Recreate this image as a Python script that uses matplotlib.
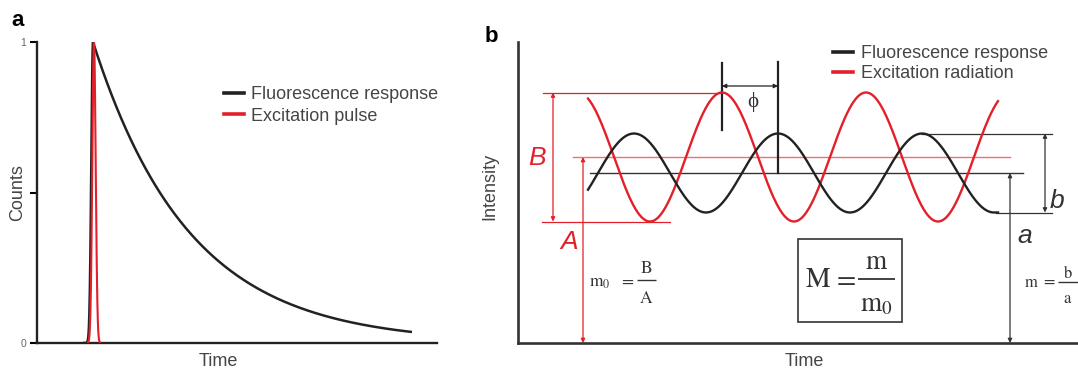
import matplotlib
matplotlib.use("Agg")
import matplotlib.pyplot as plt
import numpy as np
from matplotlib.patches import Rectangle
from matplotlib.lines import Line2D

plt.rcParams["font.family"] = ["Liberation Sans", "DejaVu Sans"]
plt.rcParams["mathtext.fontset"] = "stix"

RED = "#e3202a"
BLK = "#222222"
GREY = "#454545"
DK = "#333333"

# ---- panel a: decay after a short pulse (time in axis fraction, counts normalised)
a_peak_t = 0.14        # peak position of the decay
a_rise_w = 0.006       # width of the rising edge
a_tau = 0.241          # decay constant
a_end_t = 0.9375       # last drawn time point
a_pulse_t = 0.1425     # centre of excitation pulse
a_pulse_sig = 0.0042
a_yticks = [0, 0.5, 1]
a_yticklabels = ["0", "", "1"]
a_labels = ["Fluorescence response", "Excitation pulse"]

# ---- panel b: modulated excitation / response (units = picture pixels)
b_period = 144.0
b_red_mean, b_red_amp, b_red_peak = 186.0, 64.5, 204.0
b_blk_mean, b_blk_amp, b_blk_peak = 170.0, 39.5, 260.0
b_t_start, b_red_end, b_blk_end = 70.0, 480.0, 477.0
b_labels = ["Fluorescence response", "Excitation radiation"]

W, H = 1078, 369
fig = plt.figure(figsize=(W / 100, H / 100), dpi=100)


def px_axes(l, t, r, b):
    return fig.add_axes([l / W, 1 - b / H, (r - l) / W, (b - t) / H])


# ═══════════════ panel a ═══════════════
axa = px_axes(37, 42, 437, 343)
t_rise = np.linspace(0.115, a_peak_t, 80)
t_dec = np.linspace(a_peak_t, a_end_t, 400)
f_rise = np.exp(-((t_rise - a_peak_t) / a_rise_w) ** 2)
f_dec = np.exp(-(t_dec - a_peak_t) / a_tau)
axa.plot(np.r_[t_rise, t_dec], np.r_[f_rise, f_dec], color=BLK, lw=1.8,
         solid_capstyle="butt", zorder=3)
t_p = np.linspace(0.128, 0.157, 200)
axa.plot(t_p, np.exp(-0.5 * ((t_p - a_pulse_t) / a_pulse_sig) ** 2), color=RED,
         lw=1.5, zorder=4)

axa.set_xlim(0, 1)
axa.set_ylim(0, 1)
for s in ["top", "right"]:
    axa.spines[s].set_visible(False)
for s in ["left", "bottom"]:
    axa.spines[s].set_linewidth(1.7)
    axa.spines[s].set_color(BLK)
axa.set_xticks([])
axa.set_yticks(a_yticks)
axa.set_yticklabels(a_yticklabels, fontsize=7.5, color="#666666")
axa.tick_params(axis="y", length=5, width=1.5, pad=3)
axa.set_xlabel("Time", fontsize=13, color=GREY, va="center")
axa.xaxis.set_label_coords(0.4525, -0.063)
axa.set_ylabel("Counts", fontsize=13, color=GREY, va="center")
axa.yaxis.set_label_coords(-0.0475, 0.5)

ha = [Line2D([], [], color=BLK, lw=2.6), Line2D([], [], color=RED, lw=2.6)]
axa.legend(ha, a_labels, loc="upper left", bbox_to_anchor=(224 / W, 1 - 86 / H),
           bbox_transform=fig.transFigure, frameon=False, fontsize=13,
           handlelength=1.1, handletextpad=0.4, labelspacing=0.25,
           borderpad=0, borderaxespad=0, labelcolor=GREY)

fig.text(11 / W, 1 - 21 / H, "a", fontsize=16, fontweight="bold", va="center")

# ═══════════════ panel b ═══════════════
axb = px_axes(518, 42, 1078, 343)
axb.set_xlim(0, 560)
axb.set_ylim(0, 301)
for s in ["top", "right"]:
    axb.spines[s].set_visible(False)
for s in ["left", "bottom"]:
    axb.spines[s].set_linewidth(1.9)
    axb.spines[s].set_color(DK)
axb.set_xticks([])
axb.set_yticks([])

tr = np.linspace(b_t_start, b_red_end, 600)
red = b_red_mean + b_red_amp * np.cos(2 * np.pi * (tr - b_red_peak) / b_period)
tb = np.linspace(b_t_start, b_blk_end, 600)
blk = b_blk_mean + b_blk_amp * np.cos(2 * np.pi * (tb - b_blk_peak) / b_period)
tb = np.r_[tb, b_blk_end + 3]
blk = np.r_[blk, blk[-1]]
axb.plot(tr, red, color=RED, lw=1.7, zorder=3)
axb.plot(tb, blk, color=BLK, lw=1.7, zorder=3)

red_hi = b_red_mean + b_red_amp
red_lo = b_red_mean - b_red_amp
blk_hi = b_blk_mean + b_blk_amp
blk_lo = b_blk_mean - b_blk_amp

# mean levels
axb.plot([55, 492], [b_red_mean, b_red_mean], color="#f07070", lw=1.0)
axb.plot([72, 505], [b_blk_mean, b_blk_mean], color=DK, lw=1.0)

# B / A guides
axb.plot([25, b_red_peak], [red_hi, red_hi], color=RED, lw=0.9)
axb.plot([24, 152], [red_lo, red_lo], color=RED, lw=0.9)


def arrow(x0, y0, x1, y1, color, style="<|-|>"):
    axb.annotate("", xy=(x1, y1), xytext=(x0, y0),
                 arrowprops=dict(arrowstyle=style, color=color, lw=0.9,
                                 mutation_scale=6, shrinkA=0, shrinkB=0),
                 annotation_clip=False)


def serif(x, y, s, size, ha="center"):
    axb.text(x, y, s, fontsize=size, color=DK, ha=ha, va="baseline", clip_on=False)


def bar(x0, x1, y, lw=1.0):
    axb.plot([x0, x1], [y, y], color=DK, lw=lw, solid_capstyle="butt", clip_on=False)


arrow(35, red_lo, 35, red_hi, RED)
arrow(65, 0, 65, b_red_mean, RED)
axb.text(19, 185, "B", color=RED, fontsize=19, style="italic", ha="center", va="center")
axb.text(51, 101, "A", color=RED, fontsize=19, style="italic", ha="center", va="center")

# m0 = B / A
serif(71, 56, r"$\mathrm{m}_0$", 12.5, ha="left")
serif(109, 58, r"$=$", 12.5)
bar(119, 138, 63)
serif(128.5, 70, r"$\mathrm{B}$", 12.5)
serif(128.5, 40, r"$\mathrm{A}$", 12.5)

# phase
axb.plot([b_red_peak, b_red_peak], [213, 280], color=BLK, lw=1.6)
axb.plot([b_blk_peak, b_blk_peak], [b_blk_mean, 281], color=BLK, lw=1.6)
arrow(b_red_peak, 257, b_blk_peak, 257, BLK)
axb.text(235, 241, "\u03d5", fontsize=15, color=DK, ha="center", va="center",
         family=["Liberation Serif", "DejaVu Serif"])

# b / a guides
axb.plot([404, 534], [blk_hi, blk_hi], color=DK, lw=0.9)
axb.plot([478, 534], [blk_lo, blk_lo], color=DK, lw=0.9)
arrow(527, blk_lo, 527, blk_hi, DK)
arrow(492, 0, 492, b_blk_mean, DK)
axb.text(532, 142, "b", fontsize=19, style="italic", color=DK, ha="left", va="center")
axb.text(499, 107, "a", fontsize=19, style="italic", color=DK, ha="left", va="center")

# m = b / a
serif(506, 56, r"$\mathrm{m}$", 12, ha="left")
serif(530, 58, r"$=$", 12)
bar(540, 560, 61)
serif(550, 65, r"$\mathrm{b}$", 12)
serif(550, 40, r"$\mathrm{a}$", 12)

# M box
axb.add_patch(Rectangle((280, 21), 104, 83, fill=False, ec=DK, lw=1.2))
serif(287, 56, r"$\mathrm{M}$", 20, ha="left")
serif(326, 57, r"$=$", 20)
bar(340, 377, 64, lw=1.3)
serif(358.5, 74, r"$\mathrm{m}$", 19.5)
serif(358.5, 32, r"$\mathrm{m}_0$", 19.5)

axb.set_xlabel("Time", fontsize=13, color=GREY, va="center")
axb.xaxis.set_label_coords(0.511, -0.06)
axb.set_ylabel("Intensity", fontsize=13, color=GREY, va="center")
axb.yaxis.set_label_coords(-0.05, 0.52)

hb = [Line2D([], [], color=BLK, lw=2.6), Line2D([], [], color=RED, lw=2.6)]
axb.legend(hb, b_labels, loc="upper left", bbox_to_anchor=(833 / W, 1 - 45 / H),
           bbox_transform=fig.transFigure, frameon=False, fontsize=13,
           handlelength=1.1, handletextpad=0.45, labelspacing=0.18,
           borderpad=0, borderaxespad=0, labelcolor=GREY)

fig.text(491 / W, 1 - 36 / H, "b", fontsize=16, fontweight="bold", va="center", ha="center")

fig.savefig("out.png", dpi=100, facecolor="white")
